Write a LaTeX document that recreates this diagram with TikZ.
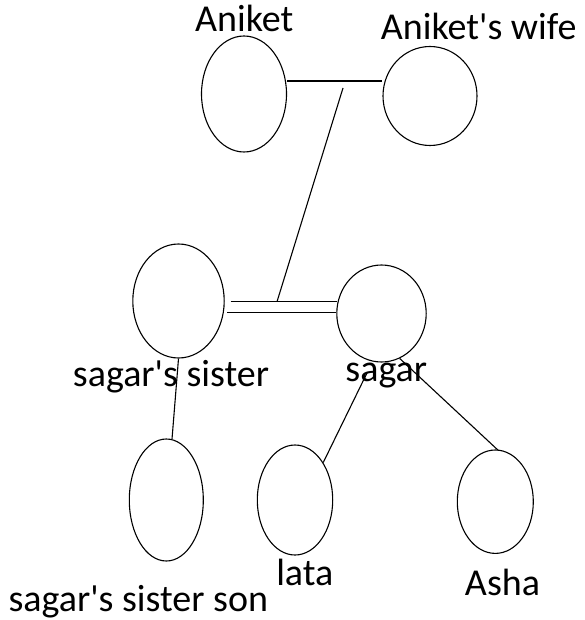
\documentclass[tikz,border=0pt]{standalone}
\usepackage{fontspec}
\setmainfont{Carlito}
\usetikzlibrary{shapes.geometric}
\begin{document}
\begin{tikzpicture}[x=1pt,y=-1pt,
  person/.style={draw, ellipse, inner sep=0pt, line width=1.1pt},
  lbl/.style={anchor=base, inner sep=0pt, font=\fontsize{38}{45}\selectfont},
  rel/.style={line width=1.1pt}]
\useasboundingbox[fill=white] (0,0) rectangle (584,620);
% persons
\node[person, minimum width=85pt, minimum height=116pt] (A) at (244,94) {};
\node[person, minimum width=94pt, minimum height=99pt] (W) at (430,96) {};
\node[person, minimum width=91.4pt, minimum height=114pt] (S) at (178.5,301) {};
\node[person, minimum width=89.4pt, minimum height=97pt] (G) at (381.5,313.5) {};
\node[person, minimum width=74pt, minimum height=122pt] (N) at (166.3,500) {};
\node[person, minimum width=75.4pt, minimum height=110pt] (L) at (295,500) {};
\node[person, minimum width=76pt, minimum height=103.4pt] (H) at (495.3,501.7) {};
% labels
\node[lbl] (tA) at (244.3,31.7) {Aniket};
\node[lbl] (tW) at (478.7,40) {Aniket\textquotesingle s wife};
\node[lbl] (tS) at (171,386.7) {sagar\textquotesingle s sister};
\node[lbl] (tG) at (386.3,381.7) {sagar};
\node[lbl] (tN) at (138.3,611.7) {sagar\textquotesingle s sister son};
\node[lbl] (tL) at (304.8,585) {lata};
\node[lbl] (tH) at (502.5,595) {Asha};
% marriage Aniket - wife
\draw[rel] ([yshift=13pt]A.east) coordinate (aw1) -- ([yshift=15pt]W.west) coordinate (aw2);
\coordinate (d1) at (343,88);
\coordinate (d2) at (277,301.7);
\draw[rel] (d1) -- (d2);
% marriage sister - sagar (double line)
\draw[rel] ([shift={(5.8,0.7)}]S.east) -- ([shift={(0.8,-11.8)}]G.west);
\draw[rel] ([shift={(2.5,11.3)}]S.east) -- ([shift={(-0.2,-1.2)}]G.west);
% children
\draw[rel] (S.south) -- ([xshift=5.7pt, yshift=-0.7pt]N.north);
\coordinate (g1) at (367,373);
\draw[rel] (g1) -- (L.53);
\draw[rel] (G.292) -- ([xshift=2.7pt, yshift=-0.7pt]H.north);
\end{tikzpicture}
\end{document}
